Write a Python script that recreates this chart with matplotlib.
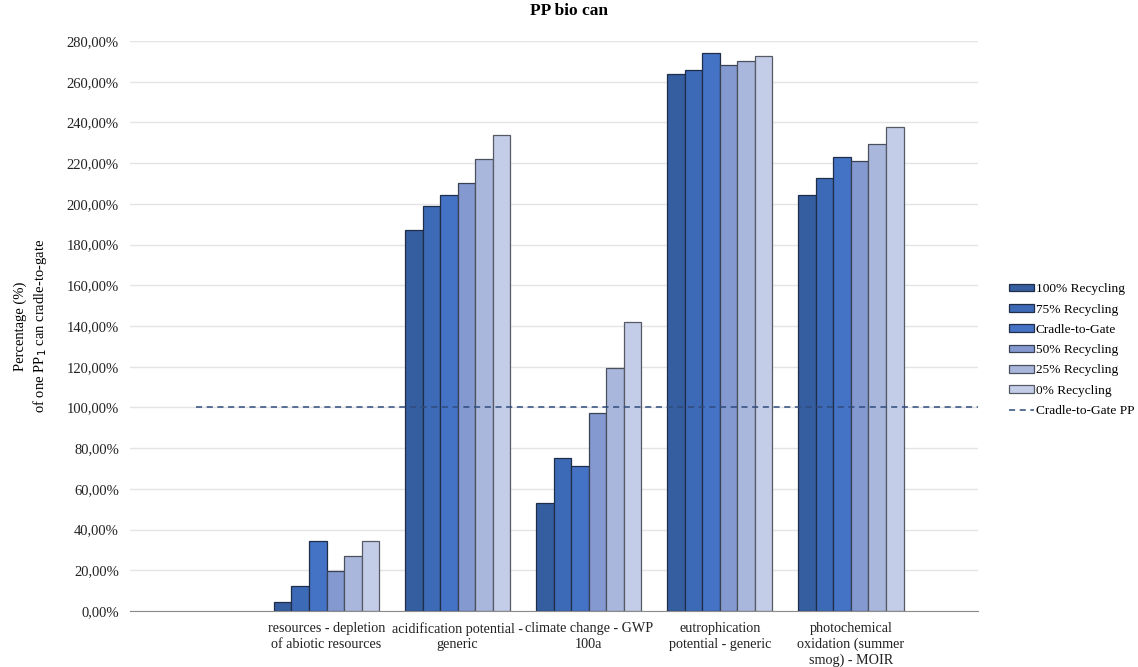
import numpy as np
import matplotlib
matplotlib.use("Agg")
import matplotlib.pyplot as plt
from matplotlib.ticker import FuncFormatter

plt.rcParams["font.family"] = ["Liberation Serif", "DejaVu Serif"]

# impact categories (first slot on the axis is left empty)
categories = ["resources - depletion\nof abiotic resources",
              "acidification potential -\ngeneric",
              "climate change - GWP\n100a",
              "eutrophication\npotential - generic",
              "photochemical\noxidation (summer\nsmog) - MOIR"]

series_names = ["100% Recycling", "75% Recycling", "Cradle-to-Gate",
                "50% Recycling", "25% Recycling", "0% Recycling"]

# percentage of one PP can cradle-to-gate
rec_100 = [4.6, 187.0, 53.0, 263.6, 204.5]
rec_75 = [12.2, 198.8, 75.1, 265.9, 212.7]
c2g = [34.5, 204.3, 71.2, 273.9, 222.8]
rec_50 = [19.5, 210.2, 97.2, 268.0, 221.0]
rec_25 = [27.0, 221.8, 119.4, 270.3, 229.4]
rec_0 = [34.5, 233.6, 141.9, 272.6, 237.6]

c2g_pp = 100.0

colors = ["#355ea0", "#3d6ab6", "#4472c4", "#8499d0", "#a9b7dc", "#c3cde7"]
edges = ["#1f2d48", "#1f2d48", "#1f2d48", "#3a4152", "#4a505c", "#555a64"]

fig = plt.figure(figsize=(11.38, 6.67), dpi=100)
ax = fig.add_axes([130 / 1138, 56 / 667, 848 / 1138, 570 / 667])

x = np.arange(1, len(categories) + 1)
width = 0.134
all_series = [rec_100, rec_75, c2g, rec_50, rec_25, rec_0]
for i, (vals, name) in enumerate(zip(all_series, series_names)):
    ax.bar(x + (i - 2.5) * width, vals, width, color=colors[i],
           edgecolor=edges[i], linewidth=0.9, label=name, zorder=3)

ax.plot([0, 5.97], [c2g_pp, c2g_pp], ls=(0, (4, 3)), color="#2f4b7c",
        lw=1.1, label="Cradle-to-Gate PP", zorder=4)

ax.set_xlim(-0.5, 5.97)
ax.set_ylim(0, 280)
ax.set_yticks(np.arange(0, 281, 20))
ax.yaxis.set_major_formatter(FuncFormatter(lambda v, p: f"{v:.2f}".replace(".", ",") + "%"))
ax.set_xticks(x)
ax.set_xticklabels(categories, fontsize=10.2, linespacing=1.25)
ax.tick_params(axis="both", length=0, colors="#222222")
ax.tick_params(axis="x", pad=8)
ax.tick_params(axis="y", pad=8, labelsize=10.5)
ax.grid(axis="y", color="#e4e4e4", lw=1, zorder=0)
for s in ["left", "right", "top"]:
    ax.spines[s].set_visible(False)
ax.spines["bottom"].set_color("#8c8c8c")
ax.spines["bottom"].set_zorder(5)

ax.set_ylabel("Percentage (%)\nof one PP$_1$ can cradle-to-gate", fontsize=10.5,
              labelpad=13, linespacing=1.3)

fig.suptitle("PP bio can", fontsize=12.5, fontweight="bold", y=0.995)

handles, labels = ax.get_legend_handles_labels()
order = [1, 2, 3, 4, 5, 6, 0]
fig.legend([handles[k] for k in order], [labels[k] for k in order],
           loc="center left", bbox_to_anchor=(997 / 1138, 0.475), frameon=False,
           fontsize=9.6, handlelength=1.9, handleheight=0.5, handletextpad=0.1,
           labelspacing=0.62)

fig.savefig("out.png", dpi=100)
